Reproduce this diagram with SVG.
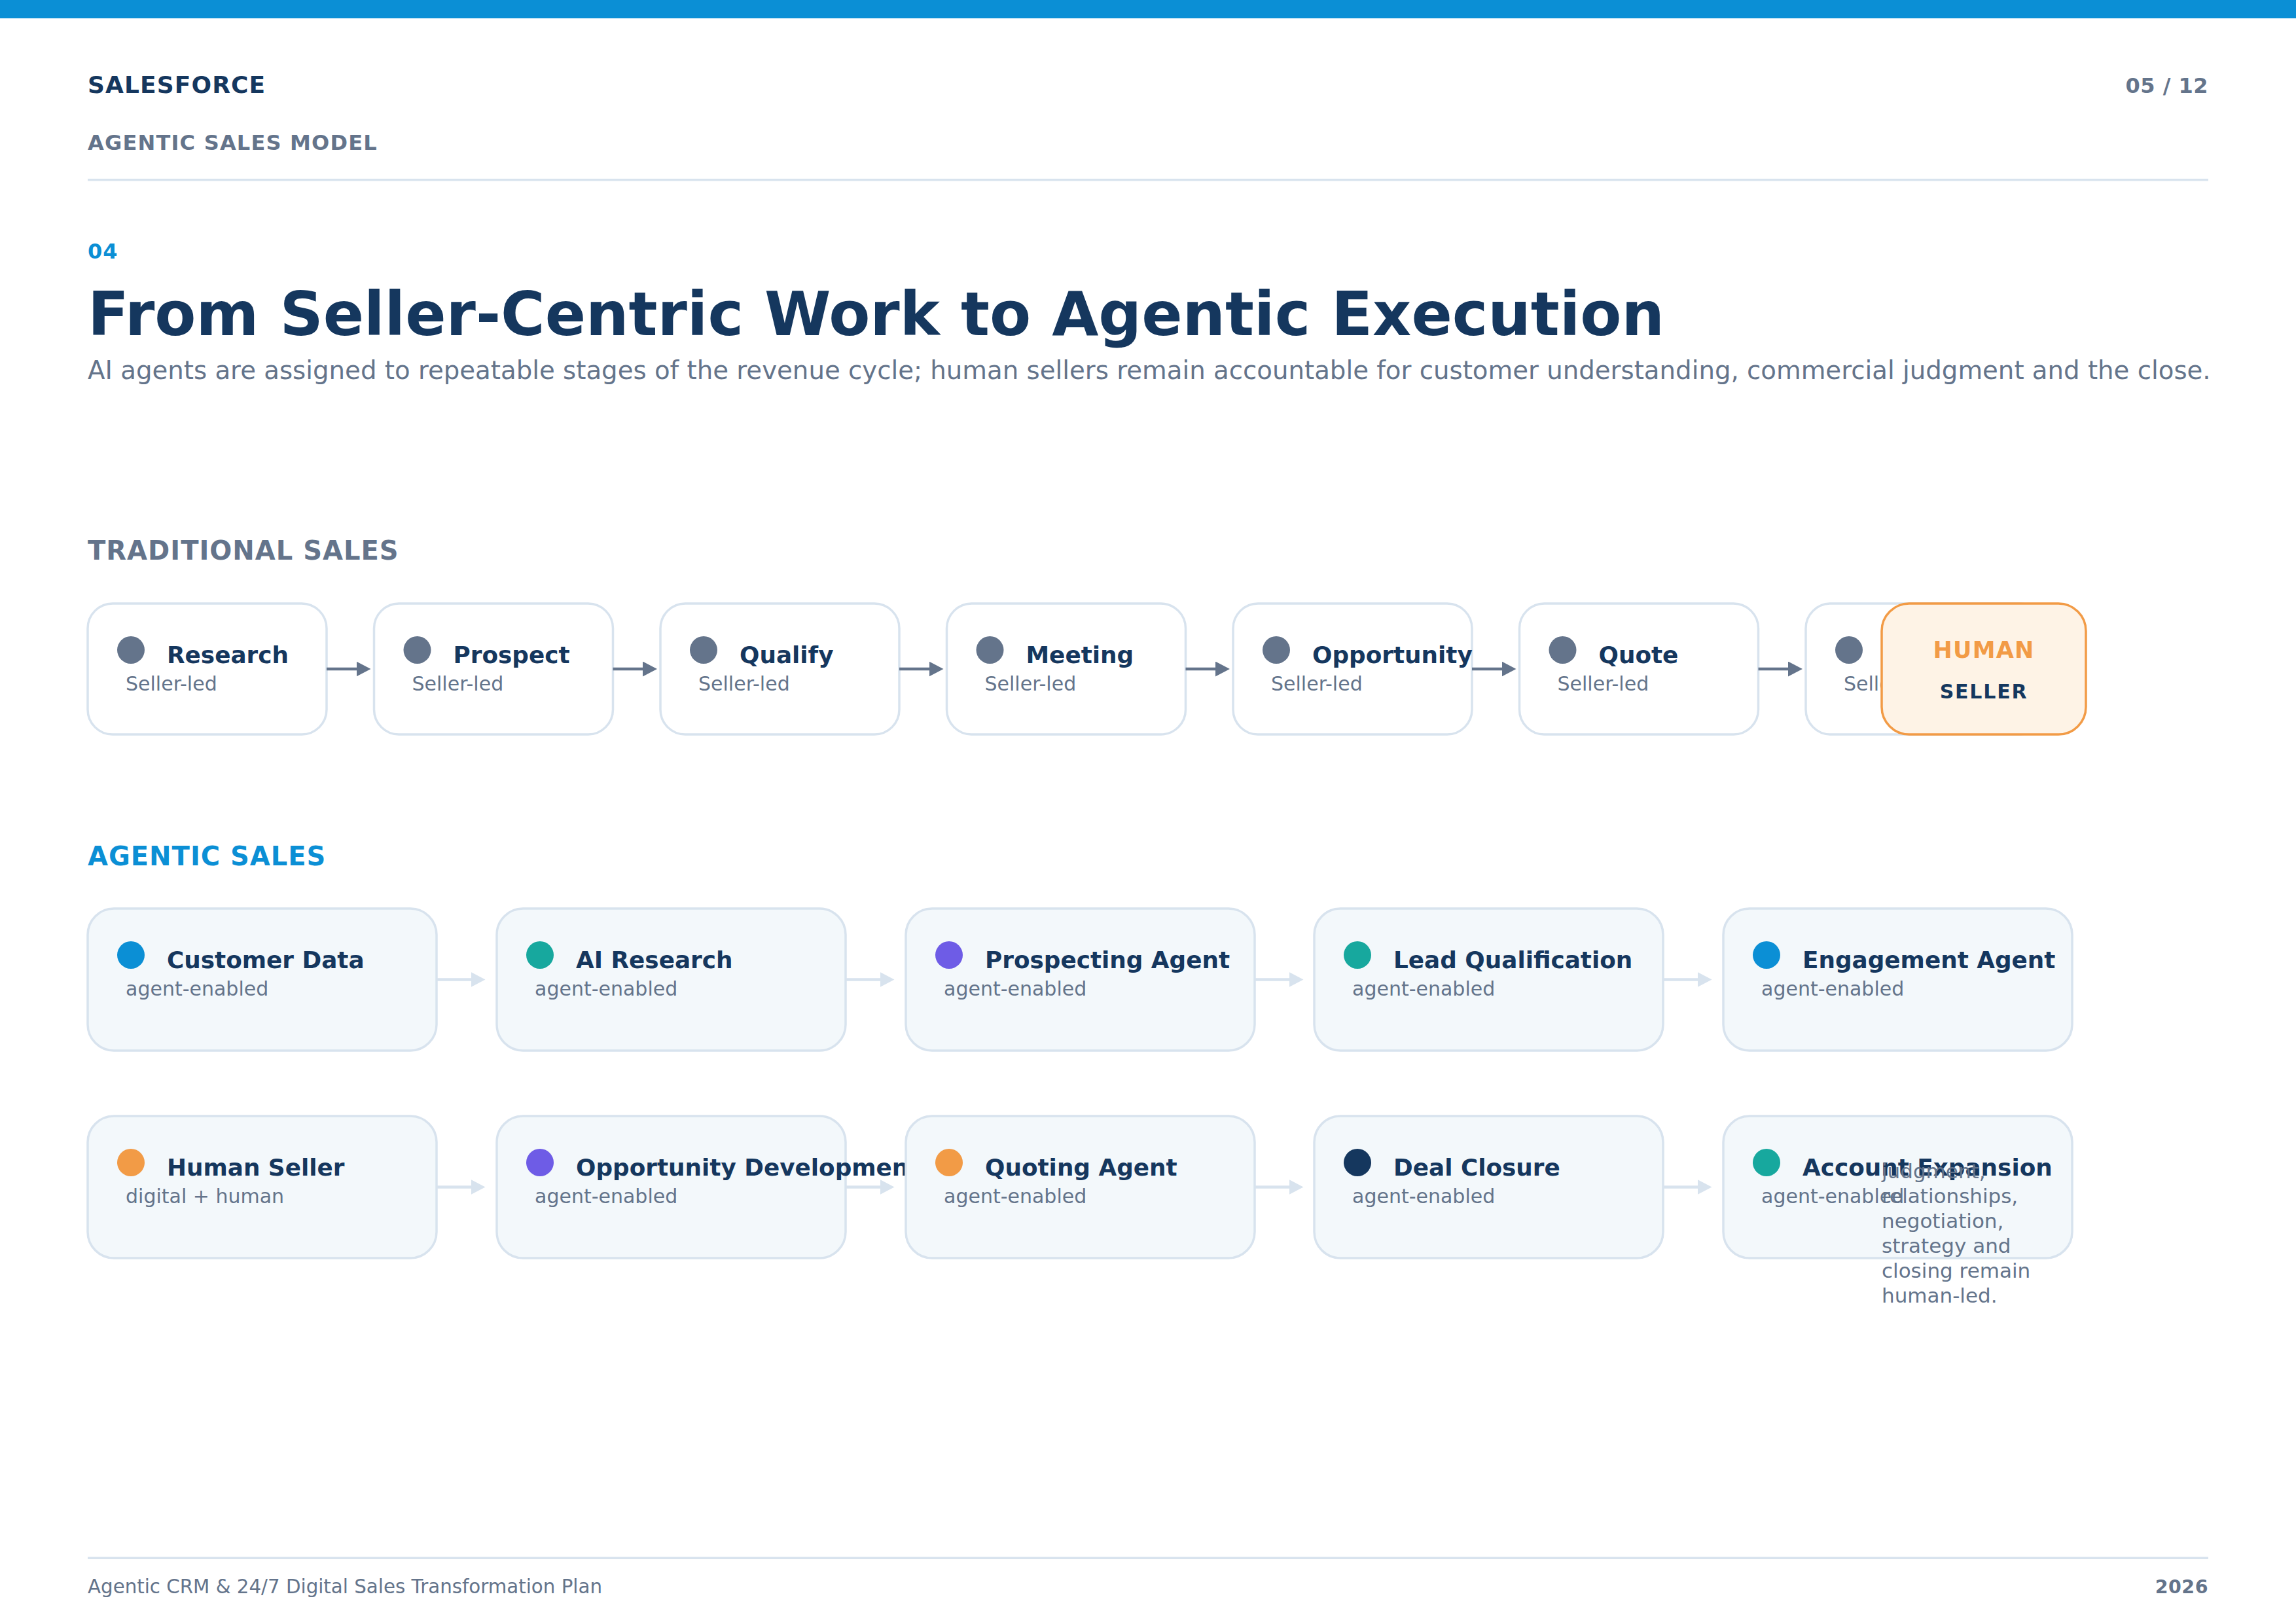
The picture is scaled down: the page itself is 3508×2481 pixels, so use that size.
<svg xmlns="http://www.w3.org/2000/svg" width="3508" height="2481" viewBox="0 0 3508 2481">
<defs>
<style>
text{font-family:"DejaVu Sans","Liberation Sans",sans-serif}
.brand{font-size:36px;font-weight:700;fill:#15375e;letter-spacing:1.1px}
.kicker{font-size:32px;font-weight:700;fill:#64748b;letter-spacing:1.2px}
.page{font-size:32px;font-weight:700;fill:#64748b;letter-spacing:0.5px}
.num{font-size:32px;font-weight:700;fill:#0b8fd5;letter-spacing:1px}
.h1{font-size:92px;font-weight:700;fill:#15375e}
.lead{font-size:38.7px;fill:#64748b}
.sec{font-size:40px;font-weight:700;letter-spacing:1px}
.trad{fill:#ffffff;stroke:#d8e3ee;stroke-width:3.5}
.agent{fill:#f3f8fb;stroke:#d8e3ee;stroke-width:3.5}
.t{font-size:35.8px;font-weight:700;fill:#15375e}
.s{font-size:30px;fill:#64748b}
.note{font-size:31px;fill:#64748b}
.foot{font-size:29.3px;fill:#64748b}
.footb{font-size:28.5px;font-weight:700;fill:#64748b;letter-spacing:0.5px}
.c1{stroke:#64748b;stroke-width:4.5;fill:none}
.c2{stroke:#d8e3ee;stroke-width:4.5;fill:none}
.rule{fill:#d8e3ee}
</style>
<marker id="ah1" markerUnits="userSpaceOnUse" markerWidth="24" markerHeight="24" refX="2" refY="11.5" orient="auto">
<path d="M0,0 L22,11.5 L0,23 z" fill="#64748b"/>
</marker>
<marker id="ah2" markerUnits="userSpaceOnUse" markerWidth="24" markerHeight="24" refX="2" refY="11.5" orient="auto">
<path d="M0,0 L22,11.5 L0,23 z" fill="#d8e3ee"/>
</marker>
</defs>
<rect x="0" y="0" width="3508" height="2481" fill="#ffffff"/>
<rect x="0" y="0" width="3508" height="28" fill="#0b8fd5"/>

<g id="header">
<text class="brand" x="134" y="142">SALESFORCE</text>
<text class="page" x="3374" y="142" text-anchor="end">05 / 12</text>
<text class="kicker" x="134" y="229">AGENTIC SALES MODEL</text>
<rect class="rule" x="134" y="273" width="3240" height="3.5"/>
<text class="num" x="134" y="395">04</text>
<text class="h1" x="134" y="512">From Seller-Centric Work to Agentic Execution</text>
<text class="lead" x="134" y="579">AI agents are assigned to repeatable stages of the revenue cycle; human sellers remain accountable for customer understanding, commercial judgment and the close.</text>
</g>

<text class="sec" x="134" y="855" fill="#64748b">TRADITIONAL SALES</text>

<g id="trad-research">
<rect class="trad" x="134" y="922" width="365" height="200" rx="38"/>
<circle cx="200" cy="993" r="21" fill="#64748b"/>
<text class="t" x="255" y="1013">Research</text>
<text class="s" x="192" y="1055">Seller-led</text>
</g>
<g id="trad-prospect">
<rect class="trad" x="571.5" y="922" width="365" height="200" rx="38"/>
<circle cx="637.5" cy="993" r="21" fill="#64748b"/>
<text class="t" x="692.5" y="1013">Prospect</text>
<text class="s" x="629.5" y="1055">Seller-led</text>
</g>
<g id="trad-qualify">
<rect class="trad" x="1009" y="922" width="365" height="200" rx="38"/>
<circle cx="1075" cy="993" r="21" fill="#64748b"/>
<text class="t" x="1130" y="1013">Qualify</text>
<text class="s" x="1067" y="1055">Seller-led</text>
</g>
<g id="trad-meeting">
<rect class="trad" x="1446.5" y="922" width="365" height="200" rx="38"/>
<circle cx="1512.5" cy="993" r="21" fill="#64748b"/>
<text class="t" x="1567.5" y="1013">Meeting</text>
<text class="s" x="1504.5" y="1055">Seller-led</text>
</g>
<g id="trad-opportunity">
<rect class="trad" x="1884" y="922" width="365" height="200" rx="38"/>
<circle cx="1950" cy="993" r="21" fill="#64748b"/>
<text class="t" x="2005" y="1013">Opportunity</text>
<text class="s" x="1942" y="1055">Seller-led</text>
</g>
<g id="trad-quote">
<rect class="trad" x="2321.5" y="922" width="365" height="200" rx="38"/>
<circle cx="2387.5" cy="993" r="21" fill="#64748b"/>
<text class="t" x="2442.5" y="1013">Quote</text>
<text class="s" x="2379.5" y="1055">Seller-led</text>
</g>
<g id="trad-close">
<rect class="trad" x="2759" y="922" width="365" height="200" rx="38"/>
<circle cx="2825" cy="993" r="21" fill="#64748b"/>
<text class="s" x="2817" y="1055">Seller-led</text>
</g>

<g id="connectors-traditional">
<line class="c1" x1="499" y1="1022" x2="546.5" y2="1022" marker-end="url(#ah1)"/>
<line class="c1" x1="936.5" y1="1022" x2="984" y2="1022" marker-end="url(#ah1)"/>
<line class="c1" x1="1374" y1="1022" x2="1421.5" y2="1022" marker-end="url(#ah1)"/>
<line class="c1" x1="1811.5" y1="1022" x2="1859" y2="1022" marker-end="url(#ah1)"/>
<line class="c1" x1="2249" y1="1022" x2="2296.5" y2="1022" marker-end="url(#ah1)"/>
<line class="c1" x1="2686.5" y1="1022" x2="2734" y2="1022" marker-end="url(#ah1)"/>
</g>

<g id="human-seller-badge">
<rect x="2875" y="922" width="312" height="200" rx="42" fill="#fef3e6" stroke="#f29b46" stroke-width="3.5"/>
<text x="3031" y="1005" text-anchor="middle" font-size="35" font-weight="700" fill="#f29b46" letter-spacing="1.2">HUMAN</text>
<text x="3031" y="1067" text-anchor="middle" font-size="30" font-weight="700" fill="#15375e" letter-spacing="1.8">SELLER</text>
</g>

<text class="sec" x="134" y="1322" fill="#0b8fd5">AGENTIC SALES</text>

<g id="ag-customer-data">
<rect class="agent" x="134" y="1388" width="533" height="217" rx="40"/>
<circle cx="200" cy="1459" r="21" fill="#0b8fd5"/>
<text class="t" x="255" y="1479">Customer Data</text>
<text class="s" x="192" y="1521">agent-enabled</text>
</g>
<g id="ag-ai-research">
<rect class="agent" x="759" y="1388" width="533" height="217" rx="40"/>
<circle cx="825" cy="1459" r="21" fill="#17a89e"/>
<text class="t" x="880" y="1479">AI Research</text>
<text class="s" x="817" y="1521">agent-enabled</text>
</g>
<g id="ag-prospecting">
<rect class="agent" x="1384" y="1388" width="533" height="217" rx="40"/>
<circle cx="1450" cy="1459" r="21" fill="#6e5ce6"/>
<text class="t" x="1505" y="1479">Prospecting Agent</text>
<text class="s" x="1442" y="1521">agent-enabled</text>
</g>
<g id="ag-lead-qualification">
<rect class="agent" x="2008" y="1388" width="533" height="217" rx="40"/>
<circle cx="2074" cy="1459" r="21" fill="#17a89e"/>
<text class="t" x="2129" y="1479">Lead Qualification</text>
<text class="s" x="2066" y="1521">agent-enabled</text>
</g>
<g id="ag-engagement">
<rect class="agent" x="2633" y="1388" width="533" height="217" rx="40"/>
<circle cx="2699" cy="1459" r="21" fill="#0b8fd5"/>
<text class="t" x="2754" y="1479">Engagement Agent</text>
<text class="s" x="2691" y="1521">agent-enabled</text>
</g>

<g id="ag-human-seller">
<rect class="agent" x="134" y="1705" width="533" height="217" rx="40"/>
<circle cx="200" cy="1776" r="21" fill="#f29b46"/>
<text class="t" x="255" y="1796">Human Seller</text>
<text class="s" x="192" y="1838">digital + human</text>
</g>
<g id="ag-opportunity">
<rect class="agent" x="759" y="1705" width="533" height="217" rx="40"/>
<circle cx="825" cy="1776" r="21" fill="#6e5ce6"/>
<text class="t" x="880" y="1796">Opportunity Development</text>
<text class="s" x="817" y="1838">agent-enabled</text>
</g>
<g id="ag-quoting">
<rect class="agent" x="1384" y="1705" width="533" height="217" rx="40"/>
<circle cx="1450" cy="1776" r="21" fill="#f29b46"/>
<text class="t" x="1505" y="1796">Quoting Agent</text>
<text class="s" x="1442" y="1838">agent-enabled</text>
</g>
<g id="ag-deal-closure">
<rect class="agent" x="2008" y="1705" width="533" height="217" rx="40"/>
<circle cx="2074" cy="1776" r="21" fill="#15375e"/>
<text class="t" x="2129" y="1796">Deal Closure</text>
<text class="s" x="2066" y="1838">agent-enabled</text>
</g>
<g id="ag-account-expansion">
<rect class="agent" x="2633" y="1705" width="533" height="217" rx="40"/>
<circle cx="2699" cy="1776" r="21" fill="#17a89e"/>
<text class="t" x="2754" y="1796">Account Expansion</text>
<text class="s" x="2691" y="1838">agent-enabled</text>
</g>

<g id="connectors-agentic">
<line class="c2" x1="667" y1="1496.5" x2="721.5" y2="1496.5" marker-end="url(#ah2)"/>
<line class="c2" x1="1292" y1="1496.5" x2="1346.5" y2="1496.5" marker-end="url(#ah2)"/>
<line class="c2" x1="1917" y1="1496.5" x2="1971.5" y2="1496.5" marker-end="url(#ah2)"/>
<line class="c2" x1="2541" y1="1496.5" x2="2595.5" y2="1496.5" marker-end="url(#ah2)"/>
<line class="c2" x1="667" y1="1813.5" x2="721.5" y2="1813.5" marker-end="url(#ah2)"/>
<line class="c2" x1="1292" y1="1813.5" x2="1346.5" y2="1813.5" marker-end="url(#ah2)"/>
<line class="c2" x1="1917" y1="1813.5" x2="1971.5" y2="1813.5" marker-end="url(#ah2)"/>
<line class="c2" x1="2541" y1="1813.5" x2="2595.5" y2="1813.5" marker-end="url(#ah2)"/>
</g>

<text class="note" x="2875" y="1800">judgment,</text>
<text class="note" x="2875" y="1838">relationships,</text>
<text class="note" x="2875" y="1876">negotiation,</text>
<text class="note" x="2875" y="1914">strategy and</text>
<text class="note" x="2875" y="1952">closing remain</text>
<text class="note" x="2875" y="1990">human-led.</text>

<g id="footer">
<rect class="rule" x="134" y="2378.5" width="3240" height="3.5"/>
<text class="foot" x="134" y="2434">Agentic CRM &amp; 24/7 Digital Sales Transformation Plan</text>
<text class="footb" x="3374" y="2434" text-anchor="end">2026</text>
</g>
</svg>
